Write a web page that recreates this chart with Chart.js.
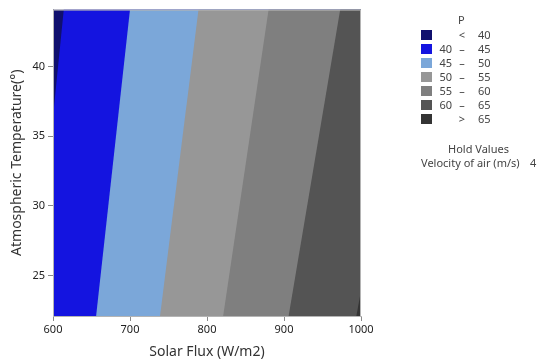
<!DOCTYPE html>
<html>
<head>
<meta charset="utf-8">
<script src="https://cdn.jsdelivr.net/npm/chart.js@4.4.1/dist/chart.umd.min.js"></script>
<style>
    body { margin: 0; background: #ffffff; }
    #wrap { position: relative; width: 537px; height: 360px; font-family: "Noto Sans", sans-serif; color: #444; }
    #legend { position: absolute; left: 0; top: 0; font-size: 11px; }
    #legend span, #legend div { position: absolute; white-space: nowrap; line-height: 14px; }
</style>
</head>
<body>
<div id="wrap">
    <canvas id="contour" width="537" height="360"></canvas>
    <div id="legend"></div>
</div>
<script>
// Contour levels of P and where each level line meets the bottom / top of the plot
const levels = [40, 45, 50, 55, 60, 65];
const fluxAtBottom = [574, 656, 739, 821, 906, 994];
const fluxAtTop = [614, 700, 789, 880, 973, 1067];

const fluxRange = [600, 1000];
const tempRange = [22.1, 44.1];
const fluxTicks = [600, 700, 800, 900, 1000];
const tempTicks = [25, 30, 35, 40];

const bandLabels = [
    ["", "<", "40"],
    ["40", "–", "45"],
    ["45", "–", "50"],
    ["50", "–", "55"],
    ["55", "–", "60"],
    ["60", "–", "65"],
    ["", ">", "65"],
];
const bandColors = ["#10106e", "#1414e0", "#7ba7d9", "#979797", "#7f7f7f", "#545454", "#343434"];

const holdName = "Velocity of air (m/s)";
const holdValue = 4;

// each band is filled from its lower level line to far right, higher bands painted on top
const farLeft = 500;
const farRight = 1100;
const datasets = [];
for (let i = bandColors.length - 1; i >= 0; i--) {
    const b = i === 0 ? farLeft : fluxAtBottom[i - 1];
    const t = i === 0 ? farLeft : fluxAtTop[i - 1];
    datasets.push({
        label: bandLabels[i].join(" "),
        data: [
            { x: b, y: tempRange[0] },
            { x: farRight, y: tempRange[0] },
            { x: farRight, y: tempRange[1] },
            { x: t, y: tempRange[1] },
        ],
        showLine: true,
        fill: "shape",
        backgroundColor: bandColors[i],
        borderWidth: 0,
        pointRadius: 0,
        tension: 0,
    });
}

const frame = {
    id: "frame",
    afterDraw(chart) {
        const { ctx, chartArea: a } = chart;
        ctx.save();
        ctx.strokeStyle = "#b4b4b4";
        ctx.lineWidth = 1;
        ctx.strokeRect(a.left + 0.5, a.top + 0.5, a.right - a.left - 1, a.bottom - a.top);
        ctx.restore();
    },
};

const tickFont = { family: "Noto Sans", size: 11 };
const titleFont = { family: "Noto Sans", size: 14 };

new Chart(document.getElementById("contour"), {
    type: "scatter",
    data: { datasets },
    plugins: [frame],
    options: {
        responsive: false,
        animation: false,
        events: [],
        layout: { padding: { top: 8, right: 176, left: 0, bottom: 0 } },
        scales: {
            x: {
                type: "linear",
                min: fluxRange[0],
                max: fluxRange[1],
                afterBuildTicks: (s) => { s.ticks = fluxTicks.map((v) => ({ value: v })); },
                afterFit: (s) => { s.height = 44; },
                grid: { drawOnChartArea: false, drawTicks: true, tickLength: 5, color: "#8a8a8a" },
                border: { color: "#b4b4b4" },
                ticks: { color: "#222", font: tickFont, padding: 2, maxRotation: 0, callback: (v) => String(v) },
                title: { display: true, text: "Solar Flux (W/m2)", color: "#333", font: titleFont, padding: { top: 0, bottom: 0 } },
            },
            y: {
                type: "linear",
                min: tempRange[0],
                max: tempRange[1],
                afterBuildTicks: (s) => { s.ticks = tempTicks.map((v) => ({ value: v })); },
                afterFit: (s) => { s.width = 53; },
                grid: { drawOnChartArea: false, drawTicks: true, tickLength: 5, color: "#8a8a8a" },
                border: { color: "#b4b4b4" },
                ticks: { color: "#222", font: tickFont, padding: 3, callback: (v) => String(v) },
                title: { display: true, text: "Atmospheric Temperature(°)", color: "#333", font: titleFont, padding: { top: 9, bottom: 0 } },
            },
        },
        plugins: {
            legend: { display: false },
            tooltip: { enabled: false },
        },
    },
});

// Legend and hold values, as HTML text
const legend = document.getElementById("legend");
const add = (html, style) => {
    const el = document.createElement("span");
    el.textContent = html;
    Object.assign(el.style, style);
    legend.appendChild(el);
    return el;
};
add("P", { left: "458px", top: "13px" });
bandLabels.forEach((lab, i) => {
    const cy = 34.5 + 14.1 * i;
    add("", { left: "421px", top: (cy - 5) + "px", width: "11px", height: "10px", background: bandColors[i] });
    add(lab[0], { left: "432px", width: "20px", textAlign: "right", top: (cy - 7) + "px" });
    add(lab[1], { left: "456px", width: "12px", textAlign: "center", top: (cy - 7) + "px" });
    add(lab[2], { left: "478px", top: (cy - 7) + "px" });
});
add("Hold Values", { left: "430px", width: "97px", textAlign: "center", top: "142px" });
add(holdName, { left: "421px", top: "156px" });
add(String(holdValue), { left: "530px", top: "156px" });
</script>
</body>
</html>
